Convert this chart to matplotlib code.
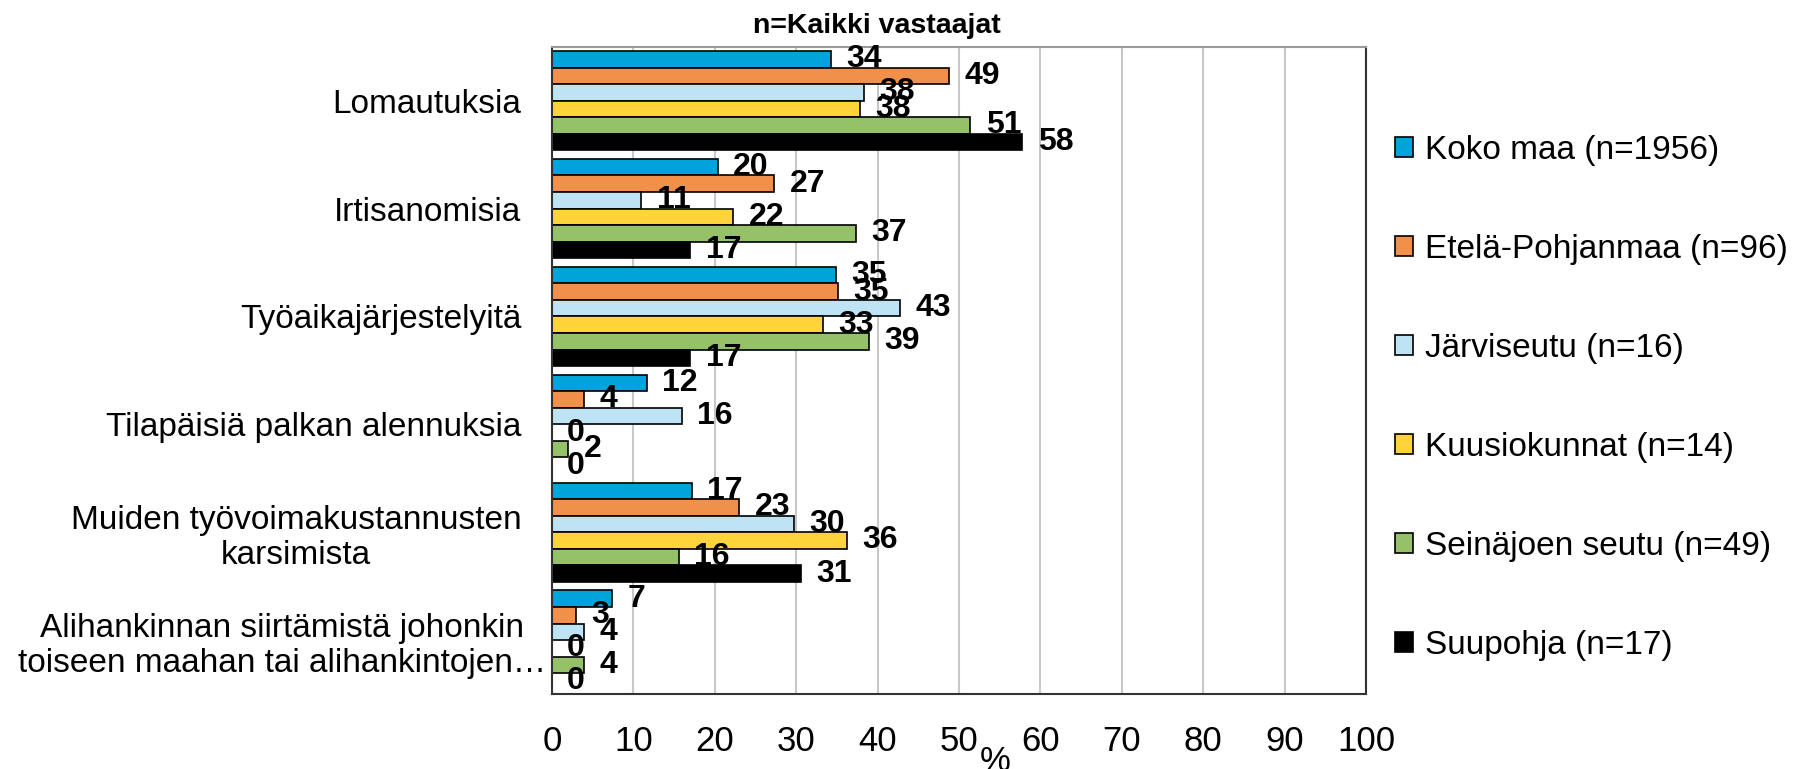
import numpy as np
import matplotlib
matplotlib.use("Agg")
import matplotlib.pyplot as plt
from matplotlib.transforms import ScaledTranslation

plt.rcParams["font.family"] = ["Liberation Sans", "DejaVu Sans"]

# categories, top to bottom
categories = [
    "Lomautuksia",
    "Irtisanomisia",
    "Työaikajärjestelyitä",
    "Tilapäisiä palkan alennuksia",
    "Muiden työvoimakustannusten\nkarsimista",
    "Alihankinnan siirtämistä johonkin\ntoiseen maahan tai alihankintojen…",
]

series = [
    "Koko maa (n=1956)",
    "Etelä-Pohjanmaa (n=96)",
    "Järviseutu (n=16)",
    "Kuusiokunnat (n=14)",
    "Seinäjoen seutu (n=49)",
    "Suupohja (n=17)",
]

koko_maa = [34.3, 20.4, 34.9, 11.7, 17.2, 7.4]
etela_pohjanmaa = [48.8, 27.3, 35.2, 4.0, 23.0, 2.9]
jarviseutu = [38.3, 11.0, 42.8, 16.0, 29.7, 4.0]
kuusiokunnat = [37.9, 22.3, 33.3, 0.0, 36.3, 0.0]
seinajoki = [51.4, 37.4, 39.0, 2.0, 15.6, 4.0]
suupohja = [57.8, 17.0, 17.0, 0.0, 30.6, 0.0]

values = [koko_maa, etela_pohjanmaa, jarviseutu, kuusiokunnat, seinajoki, suupohja]
colors = ["#00A3DA", "#F0904A", "#BEE3F5", "#FFD43B", "#95C269", "#000000"]

fig = plt.figure(figsize=(17.99, 7.69), dpi=100)
ax = fig.add_axes([0.3068, 0.0975, 0.4525, 0.8418])

n_cat = len(categories)
n_ser = len(series)
group = 0.921
h = group / n_ser
y0 = np.arange(n_cat)

for i, (name, vals, col) in enumerate(zip(series, values, colors)):
    ys = y0 - group / 2 + h * (i + 0.5)
    bars = ax.barh(ys, vals, height=h, color=col, edgecolor="black",
                   linewidth=1.2, label=name, zorder=2)
    ax.bar_label(bars, labels=["%.0f" % v for v in vals], padding=11,
                 fontsize=23, fontweight="bold", color="black", zorder=4)

ax.set_ylim(n_cat - 0.5, -0.5)
ax.set_xlim(0, 100)
ax.set_xticks(np.arange(0, 101, 10))
ax.set_yticks(y0)
ax.set_yticklabels(categories, fontsize=24, multialignment="center")
ax.tick_params(axis="x", length=0, pad=22, labelsize=25)
ax.tick_params(axis="y", length=0, pad=22)
ax.xaxis.grid(True, color="#C8C8C8", linewidth=1.5, zorder=0)
ax.set_axisbelow(True)

# the long last label reaches closer to the axis in the original
last = ax.get_yticklabels()[-1]
last.set_transform(last.get_transform() + ScaledTranslation(0.25, 0, fig.dpi_scale_trans))

ax.set_xlabel("%", fontsize=25)
ax.xaxis.set_label_coords(0.545, -0.079)

for side in ["left", "bottom", "right"]:
    ax.spines[side].set_color("#333333")
    ax.spines[side].set_linewidth(1.5)
ax.spines["top"].set_color("#999999")
ax.spines["top"].set_linewidth(1.5)

fig.text(0.4875, 0.957, "n=Kaikki vastaajat", fontsize=20.5, fontweight="bold",
         ha="center", va="baseline")

fig.legend(loc="center left", bbox_to_anchor=(0.7755, 0.483), frameon=False,
           fontsize=24, handlelength=0.55, handleheight=0.55,
           handletextpad=0.35, labelspacing=2.04, borderpad=0, borderaxespad=0)

fig.savefig("out.png", dpi=100)
